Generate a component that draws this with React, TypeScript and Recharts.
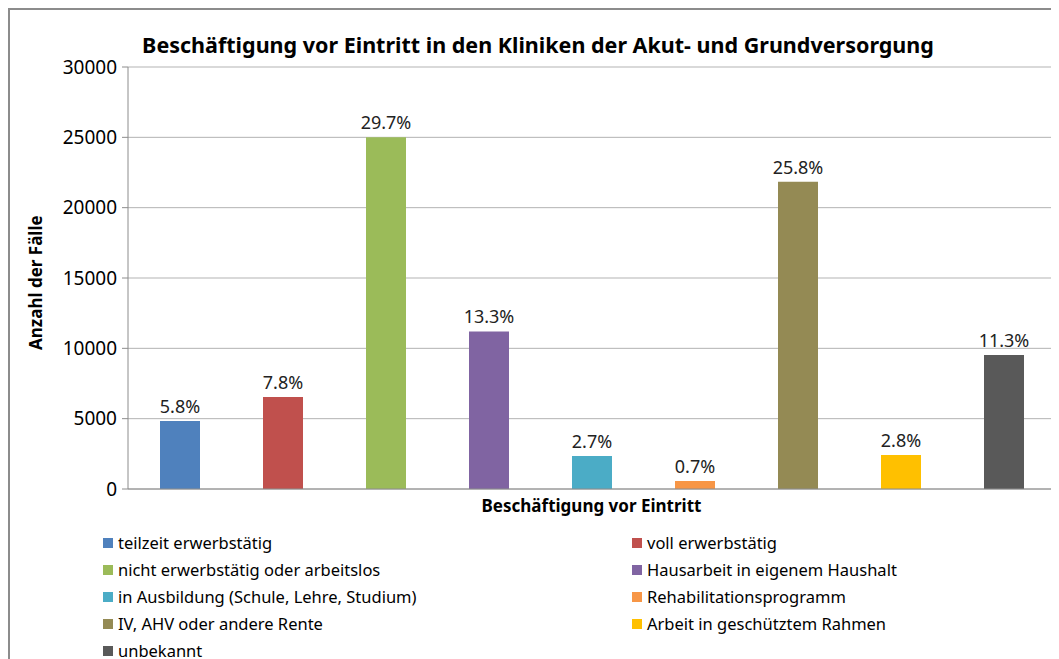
import React from "react";
import {
  BarChart,
  Bar,
  Cell,
  XAxis,
  YAxis,
  CartesianGrid,
  LabelList,
} from "recharts";

const categories = [
  "teilzeit erwerbstätig",
  "voll erwerbstätig",
  "nicht erwerbstätig oder arbeitslos",
  "Hausarbeit in eigenem Haushalt",
  "in Ausbildung (Schule, Lehre, Studium)",
  "Rehabilitationsprogramm",
  "IV, AHV oder andere Rente",
  "Arbeit in geschütztem Rahmen",
  "unbekannt",
];

const faelle = [4830, 6540, 25000, 11200, 2350, 570, 21850, 2420, 9520];

const anteile = ["5.8%", "7.8%", "29.7%", "13.3%", "2.7%", "0.7%", "25.8%", "2.8%", "11.3%"];

const colors = [
  "#4f81bd",
  "#c0504d",
  "#9bbb59",
  "#8064a2",
  "#4bacc6",
  "#f79646",
  "#948a54",
  "#ffc000",
  "#595959",
];

const yTicks = [0, 5000, 10000, 15000, 20000, 25000, 30000];

const data = categories.map((name, i) => ({
  name,
  value: faelle[i],
  pct: anteile[i],
}));

const font = "'Noto Sans', sans-serif";

const App: React.FC = () => {
  return (
    <div
      style={{
        position: "relative",
        width: 1060,
        height: 660,
        borderTop: "2px solid #8c8c8c",
        borderLeft: "2px solid #8c8c8c",
        boxSizing: "border-box",
        fontFamily: font,
        overflow: "hidden",
      }}
    >
      <div
        style={{
          position: "absolute",
          left: 0,
          width: 1060,
          top: 20,
          textAlign: "center",
          fontWeight: "bold",
          fontSize: 21.5,
          color: "#000",
        }}
      >
        <span style={{ position: "relative", left: -2 }}>
          Beschäftigung vor Eintritt in den Kliniken der Akut- und Grundversorgung
        </span>
      </div>
      <div style={{ position: "absolute", left: -2, top: -2 }}>
        <BarChart
          width={1051}
          height={651}
          data={data}
          margin={{ top: 59, right: 4, left: 0, bottom: 140 }}
          barSize={40}
        >
          <CartesianGrid vertical={false} stroke="#b3b3b3" />
          <XAxis
            dataKey="name"
            tick={false}
            tickLine={false}
            height={30}
            axisLine={{ stroke: "#8c8c8c" }}
            label={{
              value: "Beschäftigung vor Eintritt",
              position: "insideTop",
              offset: 11,
              fontWeight: "bold",
              fontSize: 17,
              fill: "#000",
              fontFamily: font,
            }}
          />
          <YAxis
            domain={[0, 30000]}
            ticks={yTicks}
            interval={0}
            width={120}
            axisLine={{ stroke: "#8c8c8c" }}
            tickLine={{ stroke: "#8c8c8c" }}
            tickSize={6}
            tickMargin={5}
            tick={{ fill: "#000", fontSize: 19, fontFamily: font }}
            label={{
              value: "Anzahl der Fälle",
              angle: -90,
              position: "insideLeft",
              offset: 28,
              dy: 72,
              fontWeight: "bold",
              fontSize: 17,
              fill: "#000",
              fontFamily: font,
            }}
          />
          <Bar dataKey="value" isAnimationActive={false}>
            {data.map((d, i) => (
              <Cell key={d.name} fill={colors[i]} />
            ))}
            <LabelList
              dataKey="pct"
              position="top"
              offset={8}
              fill="#222"
              fontSize={18}
              fontFamily={font}
            />
          </Bar>
        </BarChart>
      </div>
      <div
        style={{
          position: "absolute",
          left: 93,
          top: 521,
          width: 900,
          display: "grid",
          gridTemplateColumns: "529px 371px",
          rowGap: 4,
          fontSize: 16.5,
          color: "#000",
        }}
      >
        {categories.map((c, i) => (
          <div key={c} style={{ display: "flex", alignItems: "center", height: 23 }}>
            <span
              style={{
                display: "inline-block",
                width: 10,
                height: 10,
                background: colors[i],
                marginRight: 5,
              }}
            />
            {c}
          </div>
        ))}
      </div>
    </div>
  );
};

export default App;
